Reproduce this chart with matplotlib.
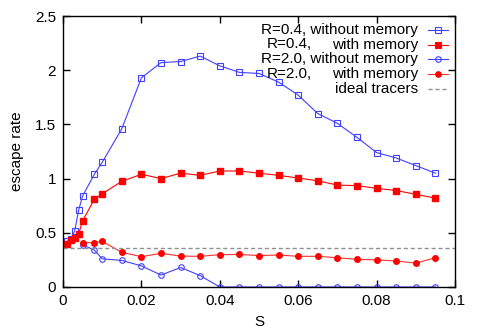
import numpy as np
import matplotlib
matplotlib.use("Agg")
import matplotlib.pyplot as plt

plt.rcParams['font.family'] = ['Liberation Sans', 'DejaVu Sans']

s_full = [0.001, 0.002, 0.003, 0.004, 0.005, 0.008, 0.01, 0.015, 0.02, 0.025, 0.03,
          0.035, 0.04, 0.045, 0.05, 0.055, 0.06, 0.065, 0.07, 0.075, 0.08, 0.085,
          0.09, 0.095]
s_part = s_full[4:]

r04_nomem = [0.42, 0.44, 0.52, 0.71, 0.84, 1.04, 1.15, 1.46, 1.93, 2.07, 2.08, 2.13,
             2.04, 1.98, 1.97, 1.89, 1.77, 1.60, 1.51, 1.38, 1.24, 1.19, 1.12, 1.05]
r04_mem = [0.40, 0.43, 0.455, 0.49, 0.61, 0.81, 0.86, 0.975, 1.04, 1.00, 1.05, 1.03,
           1.07, 1.07, 1.05, 1.03, 1.005, 0.98, 0.94, 0.935, 0.91, 0.89, 0.855, 0.82]
r20_nomem = [0.39, 0.34, 0.26, 0.245, 0.195, 0.11, 0.18, 0.105,
             0, 0, 0, 0, 0, 0, 0, 0, 0, 0, 0, 0]
r20_mem = [0.41, 0.41, 0.42, 0.32, 0.28, 0.31, 0.285, 0.283, 0.298, 0.30, 0.29,
           0.295, 0.283, 0.283, 0.27, 0.255, 0.25, 0.24, 0.22, 0.27]
ideal = 0.36

blue = '#4040ff'
red = '#ff0000'
red2 = '#ff3030'
grey = '#909090'

fig = plt.figure(figsize=(4.8, 3.35), dpi=100)
ax = fig.add_axes([63/480, 1-287/335, 392/480, 271/335])

ax.plot(s_full, r04_nomem, color=blue, lw=0.8, marker='s', ms=4.5, mfc='none', mec=blue, mew=0.8)
ax.plot(s_full, r04_mem, color=red, lw=0.8, marker='s', ms=4.5, mfc=red, mec=red)
ax.plot(s_part, r20_nomem, color=blue, lw=0.8, marker='o', ms=4, mfc='none', mec=blue, mew=0.8)
ax.plot(s_part, r20_mem, color=red2, lw=0.8, marker='o', ms=4, mfc=red, mec=red)
ax.axhline(ideal, color=grey, lw=1.0, ls=(0, (3, 2)))

ax.set_xlim(0, 0.1)
ax.set_ylim(0, 2.5)
ax.set_xticks([0, 0.02, 0.04, 0.06, 0.08, 0.1])
ax.set_xticklabels(['0', '0.02', '0.04', '0.06', '0.08', '0.1'])
ax.set_yticks([0, 0.5, 1, 1.5, 2, 2.5])
ax.set_yticklabels(['0', '0.5', '1', '1.5', '2', '2.5'])
ax.tick_params(direction='in', top=True, right=True, length=5, width=1, labelsize=11, pad=5)
for sp in ax.spines.values():
    sp.set_linewidth(1.0)
ax.set_xlabel('S', fontsize=11, labelpad=5)
ax.set_ylabel('escape rate', fontsize=11, labelpad=8)

# gnuplot-style key: text right aligned, sample to the right
def px(x, y):
    return (x - 63) / 392, (287 - y) / 271

rows = [30, 44.5, 59, 74, 89]
line_cols = [blue, red, blue, red2, grey]
marks = [('s', 4.5, 'none', blue), ('s', 4.5, red, red), ('o', 4, 'none', blue), ('o', 4, red, red), None]
left_txt = ['R=0.4, without memory', 'R=0.4,', 'R=2.0, without memory', 'R=2.0,', '']
right_txt = ['', 'with memory', '', 'with memory', 'ideal tracers']

for y, lc, mk, lt, rt in zip(rows, line_cols, marks, left_txt, right_txt):
    x0, yy = px(428, y)
    x1, _ = px(448, y)
    if mk is None:
        ax.plot([x0, x1], [yy, yy], transform=ax.transAxes, color=lc, lw=1.0, ls=(0, (3, 2)), clip_on=False)
    else:
        ax.plot([x0, x1], [yy, yy], transform=ax.transAxes, color=lc, lw=0.8, clip_on=False)
        xm, _ = px(438, y)
        ax.plot([xm], [yy], transform=ax.transAxes, ls='none', clip_on=False,
                marker=mk[0], ms=mk[1], mfc=mk[2], mec=mk[3], mew=0.8)
    if lt and not rt:
        ax.text(px(418, y)[0], yy, lt, transform=ax.transAxes, ha='right', va='center', fontsize=11)
    else:
        if lt:
            ax.text(px(267, y)[0], yy, lt, transform=ax.transAxes, ha='left', va='center', fontsize=11)
        ax.text(px(418, y)[0], yy, rt, transform=ax.transAxes, ha='right', va='center', fontsize=11)

fig.savefig('out.png', dpi=100)
